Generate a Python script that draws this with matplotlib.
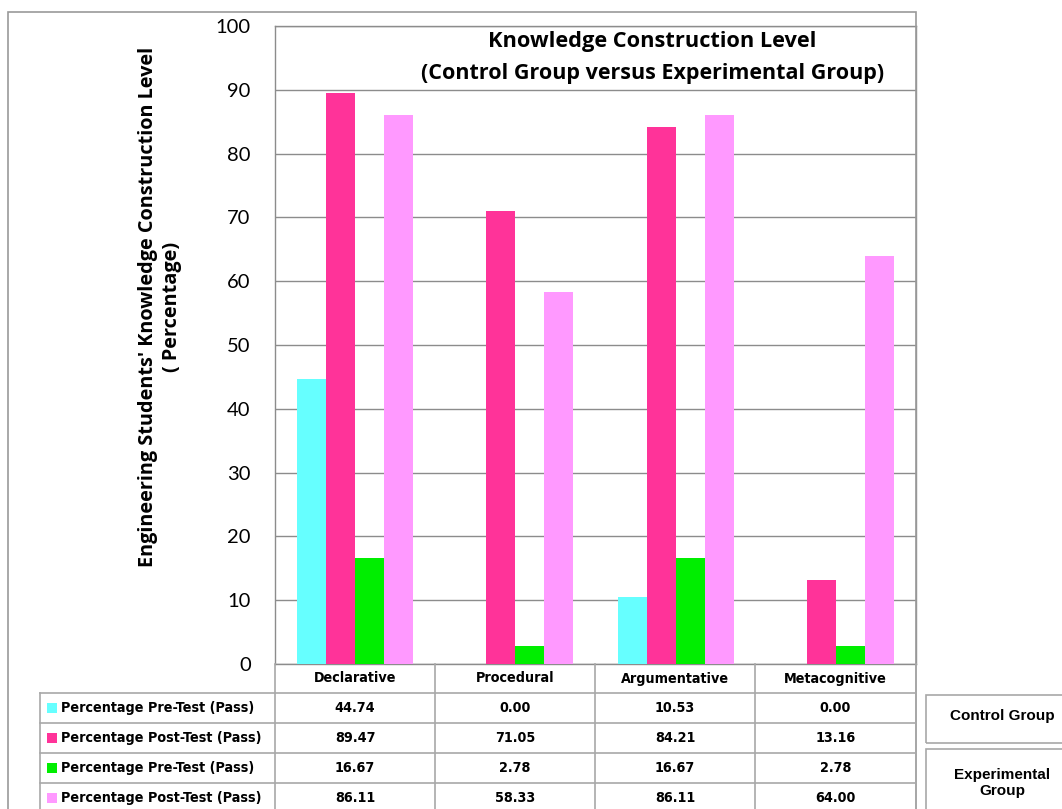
import matplotlib
matplotlib.use("Agg")
import matplotlib.pyplot as plt
from matplotlib import font_manager
from matplotlib.patches import Rectangle
from matplotlib.lines import Line2D

categories = ["Declarative", "Procedural", "Argumentative", "Metacognitive"]
series_labels = ["Percentage Pre-Test (Pass)", "Percentage Post-Test (Pass)",
                 "Percentage Pre-Test (Pass)", "Percentage Post-Test (Pass)"]
control_pre = [44.74, 0.00, 10.53, 0.00]
control_post = [89.47, 71.05, 84.21, 13.16]
exp_pre = [16.67, 2.78, 16.67, 2.78]
exp_post = [86.11, 58.33, 86.11, 64.00]
series = [control_pre, control_post, exp_pre, exp_post]
colors = ["#66FFFF", "#FF3399", "#00EE00", "#FF99FF"]
y_ticks = [0, 10, 20, 30, 40, 50, 60, 70, 80, 90, 100]

W, H = 1062, 809
fonts = font_manager.fontManager.ttflist
names = {f.name for f in fonts}
has_dejavu_cond = any(f.name == "DejaVu Sans" and f.stretch == "condensed" for f in fonts)
if "Liberation Sans Narrow" in names:
    table_font = dict(fontfamily="Liberation Sans Narrow", fontsize=11.5)
elif has_dejavu_cond:
    table_font = dict(fontfamily="DejaVu Sans", fontstretch="condensed", fontsize=10.3)
else:
    table_font = dict(fontfamily="Liberation Sans", fontsize=10.6)
tick_font = "Lato"
head_font = "Open Sans"

def fx(x):
    return x / W

def fy(y):
    return 1 - y / H

fig = plt.figure(figsize=(W / 100, H / 100), dpi=100)
fig.patch.set_facecolor("white")

# chart area frame
grey = "#9a9a9a"
fig.add_artist(Rectangle((fx(8), fy(830)), fx(916 - 8), fy(12) - fy(830),
                         fill=False, edgecolor=grey, lw=1.2, transform=fig.transFigure))

left, right, top, bottom = 275, 916, 26, 664
ax = fig.add_axes([fx(left), fy(bottom), fx(right - left), fy(top) - fy(bottom)])
ax.set_xlim(-0.5, len(categories) - 0.5)
ax.set_ylim(0, 100)
ax.set_yticks(y_ticks)
ax.set_yticklabels([str(t) for t in y_ticks], fontsize=14.5, fontfamily=tick_font)
ax.tick_params(axis="y", length=0, pad=17.5)
ax.set_xticks([])
ax.grid(axis="y", color="#8c8c8c", lw=1.0)
ax.set_axisbelow(True)
for s in ax.spines.values():
    s.set_color("#8c8c8c")
    s.set_linewidth(1.0)

bw = 29 / 160
for i, (vals, c) in enumerate(zip(series, colors)):
    xs = [k + (i - 1.5) * bw for k in range(len(categories))]
    ax.bar(xs, vals, width=bw, color=c, edgecolor="none", zorder=3)

fig.text(fx(652), fy(42), "Knowledge Construction Level", ha="center", va="center",
         fontsize=15.7, fontweight="bold", fontfamily=head_font)
fig.text(fx(653), fy(73), "(Control Group versus Experimental Group)", ha="center",
         va="center", fontsize=15.5, fontweight="bold", fontfamily=head_font)

fig.text(fx(160), fy(307), "Engineering Students' Knowledge Construction Level\n( Percentage)",
         rotation=90, ha="center", va="center", fontsize=14.3, fontweight="bold",
         fontfamily=head_font, linespacing=1.25)

# data table below the plot
line_c = "#a8a8a8"
col_edges = [275, 435, 595, 755, 916]
row_edges = [664, 693, 723, 753, 783, 813]

def hline(x0, x1, y):
    fig.add_artist(Line2D([fx(x0), fx(x1)], [fy(y), fy(y)], color=line_c, lw=1.2,
                          transform=fig.transFigure))

def vline(x, y0, y1):
    fig.add_artist(Line2D([fx(x), fx(x)], [fy(y0), fy(y1)], color=line_c, lw=1.2,
                          transform=fig.transFigure))

for y in row_edges[1:]:
    hline(40, 916, y)
for x in col_edges:
    vline(x, 664, 813)
vline(40, 693, 813)

for k, cat in enumerate(categories):
    cx = (col_edges[k] + col_edges[k + 1]) / 2
    fig.text(fx(cx), fy((row_edges[0] + row_edges[1]) / 2), cat, ha="center", va="center",
             fontweight="bold", **table_font)

for r, (lab, vals, c) in enumerate(zip(series_labels, series, colors)):
    yc = (row_edges[r + 1] + row_edges[r + 2]) / 2
    fig.add_artist(Rectangle((fx(47), fy(yc + 5)), fx(10), fy(yc - 5) - fy(yc + 5),
                             facecolor=c, edgecolor="none", transform=fig.transFigure))
    fig.text(fx(61), fy(yc), lab, ha="left", va="center", fontweight="bold", **table_font)
    for k, v in enumerate(vals):
        cx = (col_edges[k] + col_edges[k + 1]) / 2
        fig.text(fx(cx), fy(yc), f"{v:.2f}", ha="center", va="center",
                 fontweight="bold", **table_font)

# group boxes on the right
for (y0, y1) in [(695, 743), (749, 830)]:
    fig.add_artist(Rectangle((fx(926), fy(y1)), fx(1070 - 926), fy(y0) - fy(y1),
                             fill=False, edgecolor=line_c, lw=1.2, transform=fig.transFigure))

fig.text(fx(1002), fy(716), "Control Group", ha="center", va="center", fontsize=11,
         fontweight="bold", fontfamily="Liberation Sans")
fig.text(fx(1002), fy(783), "Experimental\nGroup", ha="center", va="center", fontsize=11,
         fontweight="bold", fontfamily="Liberation Sans", linespacing=1.1)

fig.savefig("out.png", dpi=100, facecolor="white")
